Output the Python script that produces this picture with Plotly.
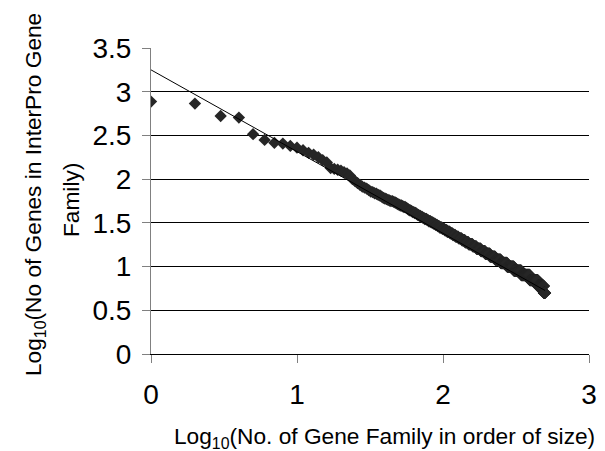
import numpy as np
import plotly.graph_objects as go

# Sizes (number of genes) of the 50 largest InterPro gene families, in rank order
top_family_sizes = [771, 731, 528, 506, 327, 281, 260, 255, 240, 229,
                    214, 200, 190, 178, 165, 155, 134, 131, 128, 125,
                    120, 116, 110, 100, 95, 90, 86, 82, 80, 78,
                    75, 72, 71, 69, 68, 66, 65, 63, 61, 60,
                    59, 58, 57, 56, 56, 55, 54, 53, 52, 51]

# Remaining families: family size and how many families have that size
tail_sizes = [50, 49, 48, 47, 46, 45, 44, 43, 42, 41,
              40, 39, 38, 37, 36, 35, 34, 33, 32, 31,
              30, 29, 28, 27, 26, 25, 24, 23, 22, 21,
              20, 19, 18, 17, 16, 15, 14, 13, 12, 11,
              10, 9, 8, 7, 6, 5]
tail_counts = [2, 1, 2, 1, 1, 1, 2, 1, 2, 2,
               1, 2, 2, 2, 2, 3, 2, 3, 3, 3,
               3, 3, 4, 4, 4, 5, 5, 5, 6, 7,
               7, 8, 10, 10, 12, 13, 15, 18, 21, 26,
               31, 38, 49, 53, 45, 10]

# Linear trend line (log-log)
trend_intercept = 3.25
trend_slope = -0.935

x_title = "Log<sub>10</sub>(No. of Gene Family in order of size)"
y_title_1 = "Log<sub>10</sub>(No of Genes in InterPro Gene"
y_title_2 = "Family)"

sizes = np.array(top_family_sizes + list(np.repeat(tail_sizes, tail_counts)), dtype=float)
ranks = np.arange(1, len(sizes) + 1)
x = np.log10(ranks)
y = np.log10(sizes)

xt = np.array([x.min(), x.max()])
yt = trend_intercept + trend_slope * xt

FONT = "Arial, Liberation Sans, sans-serif"
TICK_SIZE = 28
TITLE_SIZE = 22.7

fig = go.Figure()
fig.add_trace(go.Scatter(x=x, y=y, mode="markers",
                         marker=dict(symbol="diamond", size=9.5, color="#262626",
                                     line=dict(width=0)),
                         showlegend=False))
fig.add_trace(go.Scatter(x=xt, y=yt, mode="lines",
                         line=dict(color="#000000", width=1),
                         showlegend=False))

# page has an 8px body margin; margins compensate so the plot area lands at
# x 151..589, y 48..354 in the window
fig.update_layout(
    width=605, height=451,
    margin=dict(l=143, r=24, t=40, b=105),
    paper_bgcolor="white", plot_bgcolor="white",
    font=dict(family=FONT, size=TITLE_SIZE, color="black"),
    xaxis=dict(range=[0, 3], dtick=1, showgrid=False, zeroline=False,
               showline=True, linecolor="#000000", linewidth=1,
               ticks="outside", ticklen=8, tickcolor="#808080", tickwidth=1,
               tickfont=dict(family=FONT, size=TICK_SIZE, color="black"),
               ticklabelstandoff=7),
    yaxis=dict(range=[0, 3.5], dtick=0.5, showgrid=True, gridcolor="#000000",
               gridwidth=1, zeroline=False,
               showline=True, linecolor="#808080", linewidth=1,
               ticks="outside", ticklen=8, tickcolor="#808080", tickwidth=1,
               tickfont=dict(family=FONT, size=TICK_SIZE, color="black"),
               ticklabelstandoff=5),
)

fig.add_annotation(text=x_title, xref="paper", yref="paper",
                   x=(384.5 - 151) / 438, y=(354 - 437) / 306,
                   xanchor="center", yanchor="middle", showarrow=False,
                   font=dict(family=FONT, size=TITLE_SIZE, color="black"))
fig.add_annotation(text=y_title_1, xref="paper", yref="paper",
                   x=(34 - 151) / 438, y=(354 - 195) / 306,
                   xanchor="center", yanchor="middle", showarrow=False,
                   textangle=-90,
                   font=dict(family=FONT, size=TITLE_SIZE, color="black"))
fig.add_annotation(text=y_title_2, xref="paper", yref="paper",
                   x=(71 - 151) / 438, y=(354 - 200) / 306,
                   xanchor="center", yanchor="middle", showarrow=False,
                   textangle=-90,
                   font=dict(family=FONT, size=TITLE_SIZE, color="black"))

fig.write_html("out.html")
